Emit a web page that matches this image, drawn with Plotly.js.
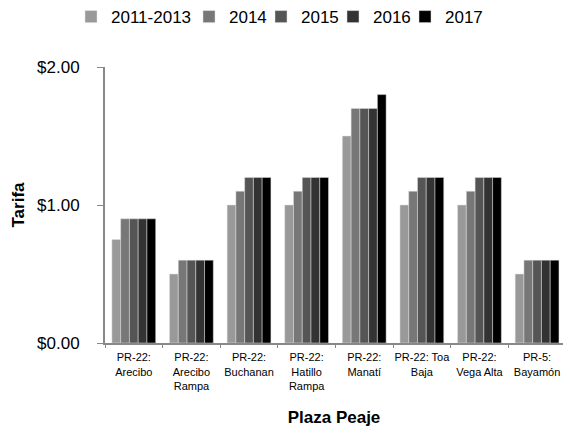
<!DOCTYPE html>
<html>
<head>
<meta charset="utf-8">
<script src="https://cdn.plot.ly/plotly-3.0.1.min.js"></script>
<style>html,body{margin:0;padding:0;overflow:hidden;background:#fff}</style>
</head>
<body>
<div id="chart" style="width:563px;height:432px"></div>
<script>
const categories = ["PR-22:<br>Arecibo", "PR-22:<br>Arecibo<br>Rampa", "PR-22:<br>Buchanan", "PR-22:<br>Hatillo<br>Rampa", "PR-22:<br>Manatí", "PR-22: Toa<br>Baja", "PR-22:<br>Vega Alta", "PR-5:<br>Bayamón"];
const seriesNames = ["2011-2013", "2014", "2015", "2016", "2017"];
const v2011_2013 = [0.75, 0.50, 1.00, 1.00, 1.50, 1.00, 1.00, 0.50];
const v2014 = [0.90, 0.60, 1.10, 1.10, 1.70, 1.10, 1.10, 0.60];
const v2015 = [0.90, 0.60, 1.20, 1.20, 1.70, 1.20, 1.20, 0.60];
const v2016 = [0.90, 0.60, 1.20, 1.20, 1.70, 1.20, 1.20, 0.60];
const v2017 = [0.90, 0.60, 1.20, 1.20, 1.80, 1.20, 1.20, 0.60];
const seriesValues = [v2011_2013, v2014, v2015, v2016, v2017];
const colors = ["#999999", "#777777", "#555555", "#333333", "#000000"];

const font = "Liberation Sans, Arial, sans-serif";
const legendIds = ["legend", "legend2", "legend3", "legend4", "legend5"];
const legendX = [-0.0742, 0.1834, 0.3406, 0.4978, 0.6550];

const traces = seriesNames.map((n, i) => ({
  type: "bar", name: n, x: categories, y: seriesValues[i],
  legend: legendIds[i],
  marker: {color: colors[i], line: {color: "#e0e0e0", width: 0.5}}
}));

const layout = {
  width: 563, height: 432,
  margin: {l: 105, r: 0, t: 67, b: 89, autoexpand: false},
  paper_bgcolor: "#fff", plot_bgcolor: "#fff",
  font: {family: font, color: "#000"},
  barmode: "group", bargap: 0.24, bargroupgap: 0,
  showlegend: true,
  xaxis: {
    type: "category", range: [-0.5, 7.45],
    showline: true, linecolor: "#888888", linewidth: 2,
    ticks: "outside", tickson: "boundaries", ticklen: 3, tickcolor: "#888888", tickwidth: 1,
    tickfont: {size: 11, family: font}, tickangle: 0, ticklabelstandoff: 3,
    showgrid: false, zeroline: false, automargin: false,
    title: {text: "<b>Plaza Peaje</b>", font: {size: 17, family: font}, standoff: 20}
  },
  yaxis: {
    range: [0, 2], dtick: 1, tickformat: ".2f", tickprefix: "$",
    showline: true, linecolor: "#888888", linewidth: 2,
    ticks: "outside", ticklen: 6, tickcolor: "#888888", tickwidth: 1,
    tickfont: {size: 17, family: font}, ticklabelstandoff: 14,
    showgrid: false, zeroline: false, automargin: false,
    title: {text: "<b>Tarifa</b>", font: {size: 17, family: font}, standoff: 8}
  }
};
legendIds.forEach((id, i) => {
  layout[id] = {orientation: "h", x: legendX[i], xanchor: "left", y: 1.181, yanchor: "middle",
                font: {size: 17, family: font}, itemwidth: 30, bgcolor: "rgba(0,0,0,0)"};
});
Plotly.newPlot("chart", traces, layout, {displayModeBar: false, staticPlot: true});
</script>
</body>
</html>
